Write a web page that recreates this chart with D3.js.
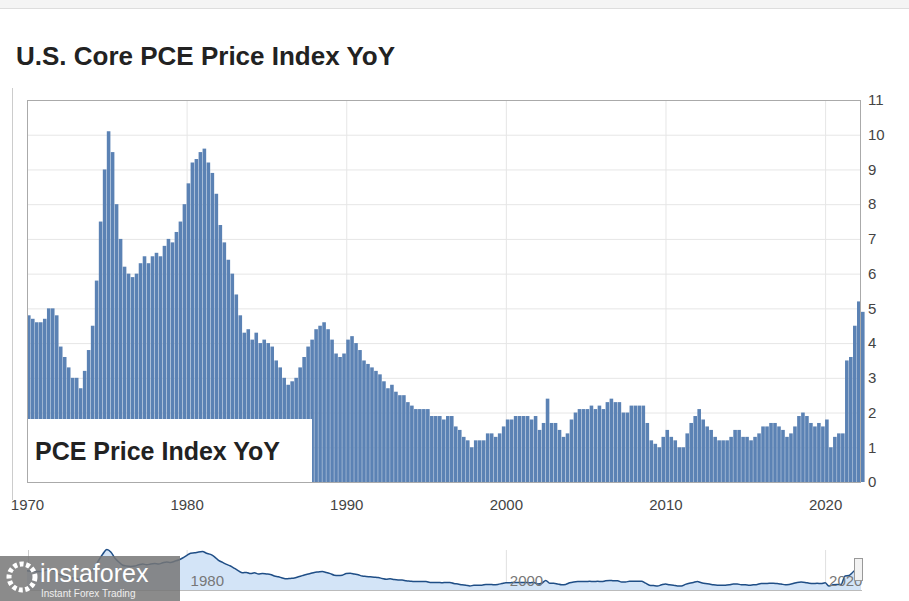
<!DOCTYPE html>
<html>
<head>
<meta charset="utf-8">
<script src="https://cdn.jsdelivr.net/npm/d3@7"></script>
<style>
  body { margin: 0; background: #fff; font-family: "Liberation Sans", Arial, sans-serif; }
</style>
</head>
<body>
<svg id="chart" width="909" height="601"></svg>
<script>
// quarterly core PCE YoY, 1970Q1 .. 2022Q2
const startYear = 1970;
const values = [
  4.8,4.7,4.6,4.6, 4.7,5.0,5.0,4.8, 3.9,3.6,3.3,3.0, 3.0,2.7,3.2,3.8,
  4.5,5.8,7.5,9.0, 10.1,9.5,8.0,7.0, 6.2,6.0,5.9,6.0, 6.3,6.5,6.3,6.5,
  6.6,6.5,6.8,7.0, 6.9,7.2,7.5,8.0, 8.6,9.2,9.3,9.5, 9.6,9.2,8.9,8.3,
  7.4,6.9,6.4,6.0, 5.4,4.8,4.3,4.4, 4.1,4.3,4.0,4.1, 4.0,3.9,3.5,3.3,
  3.0,2.8,2.9,3.0, 3.3,3.6,3.9,4.1, 4.4,4.5,4.6,4.4, 4.1,3.7,3.6,3.7,
  4.1,4.2,4.0,3.8, 3.5,3.4,3.3,3.2, 3.1,2.9,2.7,2.8, 2.6,2.5,2.5,2.3,
  2.2,2.1,2.1,2.1, 2.1,1.9,1.9,1.9, 1.8,1.9,1.9,1.6, 1.5,1.3,1.2,1.0,
  1.2,1.2,1.2,1.4, 1.4,1.3,1.4,1.6, 1.8,1.8,1.9,1.9, 1.9,1.9,1.8,1.9,
  1.5,1.7,2.4,1.7, 1.7,1.5,1.3,1.4, 1.8,2.0,2.1,2.1, 2.1,2.2,2.1,2.2,
  2.1,2.3,2.4,2.3, 2.3,2.0,2.0,2.2, 2.2,2.2,2.2,1.7, 1.2,1.1,1.0,1.3,
  1.5,1.3,1.2,1.0, 1.0,1.4,1.7,1.9, 2.1,1.8,1.6,1.5, 1.3,1.2,1.2,1.2,
  1.3,1.5,1.5,1.3, 1.3,1.2,1.3,1.4, 1.6,1.6,1.7,1.7, 1.6,1.5,1.3,1.4,
  1.6,1.9,2.0,1.9, 1.7,1.6,1.7,1.6, 1.8,1.0,1.3,1.4, 1.4,3.5,3.6,4.5,
  5.2,4.9
];
const yTicks = [0,1,2,3,4,5,6,7,8,9,10,11];
const xTicks = [1970,1980,1990,2000,2010,2020];
const navTicks = [1980,2000,2020];

const data = values.map((v, i) => ({ t: startYear + i / 4, v }));

const svg = d3.select("#chart");
const plotL = 27, plotR = 861, plotT = 100, plotB = 482;

// page furniture
svg.append("rect").attr("x", 0).attr("y", 0).attr("width", 909).attr("height", 8).attr("fill", "#f4f4f4");
svg.append("line").attr("x1", 0).attr("x2", 909).attr("y1", 8.5).attr("y2", 8.5).attr("stroke", "#ddd");
svg.append("text").attr("x", 16).attr("y", 65)
  .style("font-size", "26px").style("font-weight", "bold").attr("fill", "#222")
  .text("U.S. Core PCE Price Index YoY");
svg.append("line").attr("x1", 12.5).attr("x2", 12.5).attr("y1", 88).attr("y2", 500).attr("stroke", "#ccc");

const x = d3.scaleLinear().domain([1970, 2022.25]).range([plotL, plotR]);
const y = d3.scaleLinear().domain([0, 11]).range([plotB, plotT]);

// grid
svg.append("g").selectAll("line").data(yTicks).join("line")
  .attr("x1", plotL).attr("x2", plotR).attr("y1", d => y(d) + 0.5).attr("y2", d => y(d) + 0.5)
  .attr("stroke", "#e6e6e6");
svg.append("g").selectAll("line").data(xTicks.slice(1)).join("line")
  .attr("x1", d => x(d) + 0.5).attr("x2", d => x(d) + 0.5).attr("y1", plotT).attr("y2", plotB)
  .attr("stroke", "#e6e6e6");

// bars
const bw = x(1970.25) - x(1970);
svg.append("g").selectAll("rect").data(data).join("rect")
  .attr("x", d => x(d.t))
  .attr("width", bw - 0.4)
  .attr("y", d => y(d.v))
  .attr("height", d => y(0) - y(d.v))
  .attr("fill", "#5b82b4");

// frame
svg.append("rect").attr("x", plotL + 0.5).attr("y", plotT + 0.5)
  .attr("width", plotR - plotL - 1).attr("height", plotB - plotT)
  .attr("fill", "none").attr("stroke", "#aaa");

// axes
const yAxis = svg.append("g").attr("transform", `translate(${plotR},0)`)
  .call(d3.axisRight(y).tickValues(yTicks).tickSize(0).tickPadding(7));
yAxis.select(".domain").remove();
yAxis.selectAll("text").style("font-size", "15px").attr("fill", "#444").style("font-family", "Liberation Sans, Arial");

const xAxis = svg.append("g").attr("transform", `translate(0,${plotB})`)
  .call(d3.axisBottom(x).tickValues(xTicks).tickFormat(d3.format("d")).tickSize(0).tickPadding(17));
xAxis.select(".domain").remove();
xAxis.selectAll("text").style("font-size", "15px").attr("fill", "#444").style("font-family", "Liberation Sans, Arial");

// legend box
svg.append("rect").attr("x", plotL + 1).attr("y", 419).attr("width", 284).attr("height", 63).attr("fill", "#fff");
svg.append("text").attr("x", 35).attr("y", 460)
  .style("font-size", "25px").style("font-weight", "bold").attr("fill", "#222")
  .text("PCE Price Index YoY");

// navigator
const ny = d3.scaleLinear().domain([0, 11]).range([590, 546]);
svg.append("g").selectAll("line").data(navTicks).join("line")
  .attr("x1", d => x(d) + 0.5).attr("x2", d => x(d) + 0.5).attr("y1", 550).attr("y2", 590)
  .attr("stroke", "#e0e0e0");
svg.append("line").attr("x1", 28.5).attr("x2", 28.5).attr("y1", 550).attr("y2", 590).attr("stroke", "#ccc");
svg.append("path").datum(data)
  .attr("d", d3.area().x(d => x(d.t)).y0(590).y1(d => ny(d.v)).curve(d3.curveMonotoneX))
  .attr("fill", "#d3e4f7");
svg.append("path").datum(data)
  .attr("d", d3.line().x(d => x(d.t)).y(d => ny(d.v)).curve(d3.curveMonotoneX))
  .attr("fill", "none").attr("stroke", "#1f4e86").attr("stroke-width", 1.5);
svg.append("line").attr("x1", 28).attr("x2", 862).attr("y1", 590.5).attr("y2", 590.5).attr("stroke", "#bbb");
svg.append("g").selectAll("text").data(navTicks).join("text")
  .attr("x", d => x(d) + 4).attr("y", 586)
  .style("font-size", "15px").attr("fill", "#777").text(d => d);
svg.append("rect").attr("x", 854.5).attr("y", 558.5).attr("width", 8).attr("height", 22)
  .attr("fill", "#f2f2f2").attr("stroke", "#999");

// watermark
svg.append("rect").attr("x", 0).attr("y", 556).attr("width", 180).attr("height", 45)
  .attr("fill", "#777").attr("opacity", 0.85);
svg.append("circle").attr("cx", 22).attr("cy", 577).attr("r", 13).attr("fill", "none")
  .attr("stroke", "#fff").attr("stroke-width", 5).attr("stroke-dasharray", "4 2.5");
svg.append("text").attr("x", 40).attr("y", 582).style("font-size", "25px").attr("fill", "#fff").text("instaforex");
svg.append("text").attr("x", 41).attr("y", 597).style("font-size", "10px").attr("fill", "#eee").text("Instant Forex Trading");
</script>
</body>
</html>
